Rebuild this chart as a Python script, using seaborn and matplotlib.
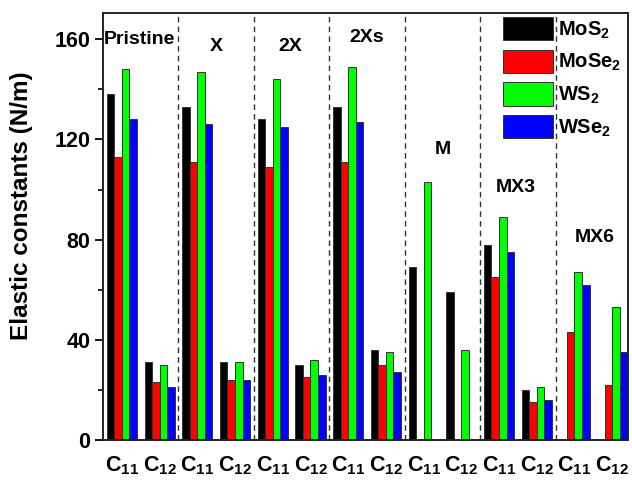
import numpy as np
import pandas as pd
import matplotlib
matplotlib.use("Agg")
import matplotlib.pyplot as plt
from matplotlib.ticker import MultipleLocator
import seaborn as sns

# Elastic constants (N/m) of four TMD monolayers for each defect type
groups = ["Pristine", "X", "2X", "2Xs", "M", "MX3", "MX6"]
constants = ["C11", "C12"]
materials = ["MoS$_2$", "MoSe$_2$", "WS$_2$", "WSe$_2$"]
nan = np.nan
mos2 = [138, 31, 133, 31, 128, 30, 133, 36, 69, 59, 78, 20, nan, nan]
mose2 = [113, 23, 111, 24, 109, 25, 111, 30, nan, nan, 65, 15, 43, 22]
ws2 = [148, 30, 147, 31, 144, 32, 149, 35, 103, 36, 89, 21, 67, 53]
wse2 = [128, 21, 126, 24, 125, 26, 127, 27, nan, nan, 75, 16, 62, 35]
tick_labels = ["C$_{11}$", "C$_{12}$"] * len(groups)
colors = ["#000000", "#ff0000", "#00ff00", "#0000ff"]

# group caption placement (x in category units, y in data units)
caption_x = [0.455, 2.51, 4.46, 6.50, 8.52, 10.45, 12.55]
caption_y = [160.0, 157.1, 157.1, 160.8, 115.8, 101.0, 80.7]

slots = [f"{g} {c}" for g in groups for c in constants]
rows = []
for mat, vals in zip(materials, [mos2, mose2, ws2, wse2]):
    for slot, v in zip(slots, vals):
        rows.append({"slot": slot, "material": mat, "value": v})
df = pd.DataFrame(rows)

sns.set_style("ticks")
plt.rcParams["font.family"] = ["Liberation Sans", "DejaVu Sans"]
plt.rcParams["font.weight"] = "bold"
plt.rcParams["mathtext.fontset"] = "custom"
plt.rcParams["mathtext.rm"] = "Liberation Sans:bold"
plt.rcParams["mathtext.it"] = "Liberation Sans:bold"
plt.rcParams["mathtext.bf"] = "Liberation Sans:bold"
for key in ["text.color", "axes.labelcolor", "xtick.color", "ytick.color"]:
    plt.rcParams[key] = "black"

fig = plt.figure(figsize=(6.32, 4.82), dpi=100)
ax = fig.add_axes([0.163, 0.0871, 0.8307, 0.8866])

sns.barplot(data=df, x="slot", y="value", hue="material", order=slots,
            hue_order=materials, palette=colors, saturation=1,
            errorbar=None, ax=ax, edgecolor="#333333", linewidth=0.7,
            width=0.8)

for xs in np.arange(1.5, len(slots) - 1, 2):
    ax.axvline(xs, color="#333333", lw=1.0, ls=(0, (4, 3)), zorder=0.5)

for name, cx, cy in zip(groups, caption_x, caption_y):
    ax.text(cx, cy, name, ha="center", va="center", fontsize=14,
            fontweight="bold")

ax.set_xlim(-0.5, 13.42)
ax.set_ylim(0, 170.6)
ax.yaxis.set_major_locator(MultipleLocator(40))
ax.yaxis.set_minor_locator(MultipleLocator(20))
ax.set_xticks(range(len(slots)))
ax.set_xticklabels(tick_labels, fontsize=15.5, fontweight="bold")
ax.tick_params(axis="x", length=0, pad=10)
ax.tick_params(axis="y", which="major", direction="out", length=6,
               width=1.3, labelsize=15.5, pad=3)
ax.tick_params(axis="y", which="minor", direction="out", length=3.5,
               width=1.2)
for t in ax.get_yticklabels():
    t.set_fontweight("bold")
for sp in ax.spines.values():
    sp.set_linewidth(1.4)
    sp.set_color("#222222")

ax.set_xlabel("")
ax.set_ylabel("Elastic constants (N/m)", fontsize=17.5, fontweight="bold")
ax.yaxis.set_label_coords(-0.133, 0.548)

ax.legend(loc="upper left", bbox_to_anchor=(0.762, 0.99), frameon=False,
          handlelength=2.5, handleheight=1.4, handletextpad=0.25,
          labelspacing=0.45, borderpad=0, borderaxespad=0,
          prop={"weight": "bold", "size": 14.5})

fig.savefig("out.png", dpi=100)
